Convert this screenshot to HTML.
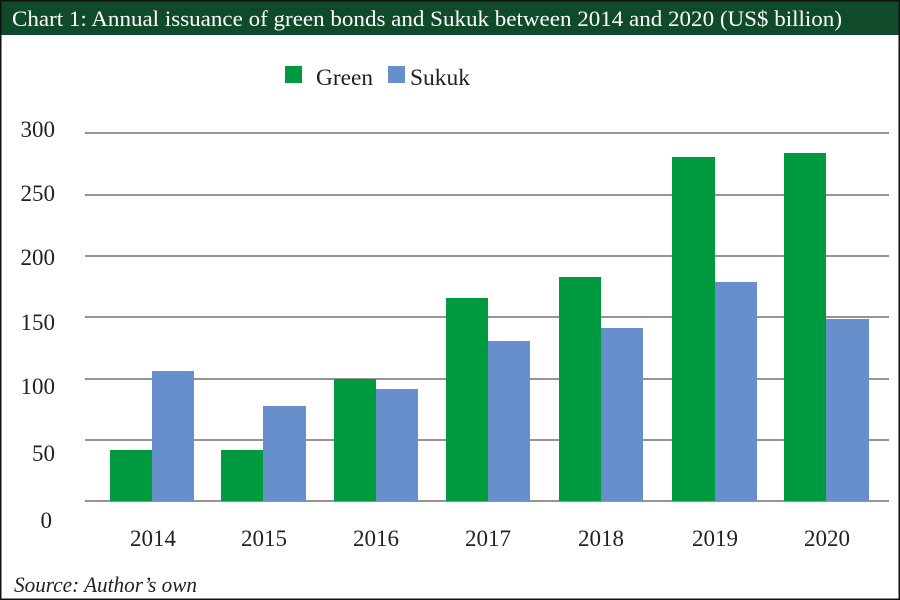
<!DOCTYPE html>
<html><head><meta charset="utf-8"><style>
html,body{margin:0;padding:0;background:#fff}
svg{display:block}
text{font-family:"Liberation Serif",serif;fill:#222}
</style></head><body>
<svg width="900" height="600" viewBox="0 0 900 600" xmlns="http://www.w3.org/2000/svg">
<rect x="0" y="0" width="900" height="600" fill="#fff"/>
<rect x="0" y="0" width="900" height="35" fill="#0f4a2b"/>
<text x="12" y="26" font-size="22" textLength="830" lengthAdjust="spacingAndGlyphs" style="fill:#fff">Chart 1: Annual issuance of green bonds and Sukuk between 2014 and 2020 (US$ billion)</text>
<rect x="0.5" y="0.5" width="899" height="599" fill="none" stroke="#111" stroke-width="2"/>
<rect x="285" y="66" width="17" height="17" fill="#009a3e"/>
<text x="316" y="85" font-size="23" textLength="57" lengthAdjust="spacingAndGlyphs">Green</text>
<rect x="388" y="66" width="17" height="17" fill="#668fcc"/>
<text x="410" y="85" font-size="23" textLength="60" lengthAdjust="spacingAndGlyphs">Sukuk</text>
<g stroke="#555" stroke-width="1.3">
<line x1="85" y1="133" x2="889" y2="133"/>
<line x1="85" y1="195" x2="889" y2="195"/>
<line x1="85" y1="256" x2="889" y2="256"/>
<line x1="85" y1="317" x2="889" y2="317"/>
<line x1="85" y1="379" x2="889" y2="379"/>
<line x1="85" y1="440" x2="889" y2="440"/>
<line x1="85" y1="501" x2="889" y2="501"/>
</g>
<g font-size="23" text-anchor="end">
<text x="55" y="137">300</text>
<text x="55" y="201">250</text>
<text x="55" y="265">200</text>
<text x="55" y="330">150</text>
<text x="55" y="394">100</text>
<text x="55" y="461">50</text>
<text x="52" y="528">0</text>
</g>
<g fill="#009a3e">
<rect x="110" y="450" width="42" height="51"/>
<rect x="221" y="450" width="42" height="51"/>
<rect x="334" y="379" width="42" height="122"/>
<rect x="446" y="298" width="42" height="203"/>
<rect x="559" y="277" width="42" height="224"/>
<rect x="672" y="157" width="43" height="344"/>
<rect x="784" y="153" width="42" height="348"/>
</g>
<g fill="#668fcc">
<rect x="152" y="371" width="42" height="130"/>
<rect x="263" y="406" width="43" height="95"/>
<rect x="376" y="389" width="42" height="112"/>
<rect x="488" y="341" width="42" height="160"/>
<rect x="601" y="328" width="42" height="173"/>
<rect x="715" y="282" width="42" height="219"/>
<rect x="826" y="319" width="43" height="182"/>
</g>
<g font-size="23" text-anchor="middle">
<text x="153" y="546">2014</text>
<text x="264" y="546">2015</text>
<text x="376" y="546">2016</text>
<text x="488" y="546">2017</text>
<text x="601" y="546">2018</text>
<text x="715" y="546">2019</text>
<text x="827" y="546">2020</text>
</g>
<text x="14" y="592" font-size="22" font-style="italic" textLength="183" lengthAdjust="spacingAndGlyphs">Source: Author’s own</text>
</svg>
</body></html>
